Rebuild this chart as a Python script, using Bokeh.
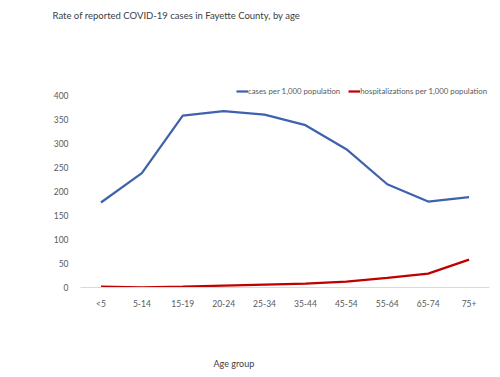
from bokeh.plotting import figure
from bokeh.models import Range1d, Legend, LegendItem, Title
from bokeh.embed import file_html
from bokeh.resources import INLINE

age_groups = ["<5", "5-14", "15-19", "20-24", "25-34", "35-44", "45-54", "55-64", "65-74", "75+"]
cases = [177, 238, 358, 367, 360, 338, 288, 215, 179, 188]
hosp = [2, 0.5, 2, 4, 6, 8, 12, 20, 29, 58]
y_ticks = [0, 50, 100, 150, 200, 250, 300, 350, 400]

FONT = "Lato"
GRAY = "#595959"

p = figure(width=500, height=377, x_range=age_groups, y_range=Range1d(0, 431),
           output_backend="svg", toolbar_location=None,
           min_border_left=80, min_border_right=11, min_border_top=80, min_border_bottom=90)
p.outline_line_color = None
p.xgrid.grid_line_color = None
p.ygrid.grid_line_color = None
p.background_fill_color = "white"
p.border_fill_color = "white"

r1 = p.line(age_groups, cases, line_color="#3F62AE", line_width=2.25)
r2 = p.line(age_groups, hosp, line_color="#C00000", line_width=2.25)

p.yaxis.ticker = y_ticks
p.yaxis.axis_line_color = None
p.yaxis.major_tick_line_color = None
p.yaxis.minor_tick_line_color = None
p.yaxis.major_label_text_font = FONT
p.yaxis.major_label_text_font_size = "8.5px"
p.yaxis.major_label_text_color = GRAY
p.yaxis.major_label_standoff = 6

p.xaxis.axis_line_color = "#D9D9D9"
p.xaxis.major_tick_line_color = None
p.xaxis.minor_tick_line_color = None
p.xaxis.major_label_text_font = FONT
p.xaxis.major_label_text_font_size = "8.5px"
p.xaxis.major_label_text_color = GRAY
p.xaxis.major_label_standoff = 5

legend = Legend(items=[LegendItem(label="cases per 1,000 population", renderers=[r1]),
                       LegendItem(label="hospitalizations per 1,000 population", renderers=[r2])],
                orientation="horizontal", location=(156, 191))
legend.label_text_font = FONT
legend.label_text_font_size = "7.8px"
legend.label_text_color = GRAY
legend.glyph_width = 12
legend.glyph_height = 8
legend.label_standoff = 0
legend.spacing = 8
legend.padding = 0
legend.margin = 0
legend.border_line_color = None
legend.background_fill_alpha = 0
p.add_layout(legend)

# spacer panels to place the title and x-axis title
top_spacer = Title(text="\u00a0", text_font=FONT, text_font_size="10px", standoff=35)
p.add_layout(top_spacer, "above")

p.title.text = "Rate of reported COVID-19 cases in Fayette County, by age"
p.title.text_font = FONT
p.title.text_font_size = "9.5px"
p.title.text_font_style = "normal"
p.title.text_color = "#404040"
p.title.align = "left"
p.title.offset = -28
p.title.vertical_align = "top"
p.title.standoff = 18

bottom_spacer = Title(text="\u00a0", text_font=FONT, text_font_size="10px", standoff=30)
p.add_layout(bottom_spacer, "below")

xt = Title(text="Age group", align="left", offset=133, text_font=FONT, standoff=4,
           vertical_align="top", text_font_size="9px", text_font_style="normal",
           text_color="#404040")
p.add_layout(xt, "below")

open("out.html", "w").write(file_html(p, INLINE))
